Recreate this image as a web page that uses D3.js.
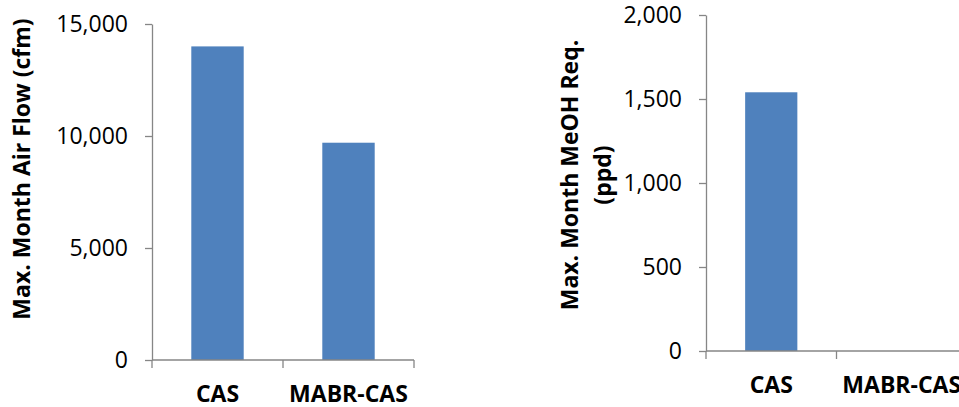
<!DOCTYPE html>
<html>
<head>
<meta charset="utf-8">
<script src="https://cdn.jsdelivr.net/npm/d3@7"></script>
<style>
  html, body { margin: 0; padding: 0; background: #fff; }
  svg { display: block; font-family: "Open Sans", "Liberation Sans", sans-serif; }
  .domain, .tick line { stroke: #868686; stroke-width: 1.3; }
</style>
</head>
<body>
<svg id="chart" width="959" height="407"></svg>
<script>
// Categories shared by both panels
const categories = ["CAS", "MABR-CAS"];

// Panel 1: maximum month air flow (cfm)
const airFlow = [14000, 9700];
const airTicks = [0, 5000, 10000, 15000];

// Panel 2: maximum month methanol requirement (ppd)
const meohReq = [1540, 0];
const meohTicks = [0, 500, 1000, 1500, 2000];

const svg = d3.select("#chart");
const fmt = d3.format(",");
const barColor = "#4F81BD";

function panel(opts) {
  const { values, ticks, yMax, x0, x1, yTop, yBottom, titleLines, titleX, titleY } = opts;
  const g = svg.append("g");

  const x = d3.scaleBand()
    .domain(categories)
    .range([x0, x1])
    .paddingInner(0.6)
    .paddingOuter(0.3);

  const y = d3.scaleLinear().domain([0, yMax]).range([yBottom, yTop]);

  // bars
  g.selectAll("rect.bar")
    .data(categories.map((c, i) => ({ c, v: values[i] })))
    .join("rect")
    .attr("class", "bar")
    .attr("x", d => x(d.c))
    .attr("width", x.bandwidth())
    .attr("y", d => y(d.v))
    .attr("height", d => yBottom - y(d.v))
    .attr("fill", barColor);

  // value axis
  const yAxis = g.append("g")
    .attr("transform", `translate(${x0},0)`)
    .call(d3.axisLeft(y).tickValues(ticks).tickFormat(fmt).tickSize(7).tickPadding(17).tickSizeOuter(0));
  yAxis.selectAll("text")
    .attr("font-size", 23)
    .attr("fill", "#000")
    .attr("font-family", "'Open Sans', sans-serif");

  // category axis with tick marks at band boundaries
  const xAxis = g.append("g").attr("transform", `translate(0,${yBottom})`);
  xAxis.append("line")
    .attr("class", "domain")
    .attr("x1", x0).attr("x2", x1)
    .attr("y1", 0).attr("y2", 0);
  const bounds = [x0, ...categories.slice(1).map(c => x(c) - x.step() * x.paddingInner() / 2), x1];
  xAxis.selectAll("line.tk")
    .data(bounds)
    .join("line")
    .attr("class", "tk")
    .attr("x1", d => d).attr("x2", d => d)
    .attr("y1", 0).attr("y2", 8)
    .attr("stroke", "#868686").attr("stroke-width", 1.3);
  xAxis.selectAll("text")
    .data(categories)
    .join("text")
    .attr("x", d => x(d) + x.bandwidth() / 2)
    .attr("y", 42)
    .attr("text-anchor", "middle")
    .attr("font-size", 23)
    .attr("font-weight", "bold")
    .attr("fill", "#000")
    .text(d => d);

  // axis title
  const t = g.append("text")
    .attr("transform", `translate(${titleX},${titleY}) rotate(-90)`)
    .attr("text-anchor", "middle")
    .attr("font-size", 23)
    .attr("font-weight", "bold")
    .attr("fill", "#000");
  titleLines.forEach((line, i) => {
    t.append("tspan")
      .attr("x", 0)
      .attr("dy", i === 0 ? 0 : 33)
      .text(line);
  });
}

panel({
  values: airFlow, ticks: airTicks, yMax: 15000,
  x0: 152, x1: 414, yTop: 24, yBottom: 360,
  titleLines: ["Max. Month Air Flow (cfm)"], titleX: 30, titleY: 169
});

panel({
  values: meohReq, ticks: meohTicks, yMax: 2000,
  x0: 706, x1: 967, yTop: 15, yBottom: 351,
  titleLines: ["Max. Month MeOH Req.", "(ppd)"], titleX: 578, titleY: 175
});
</script>
</body>
</html>
